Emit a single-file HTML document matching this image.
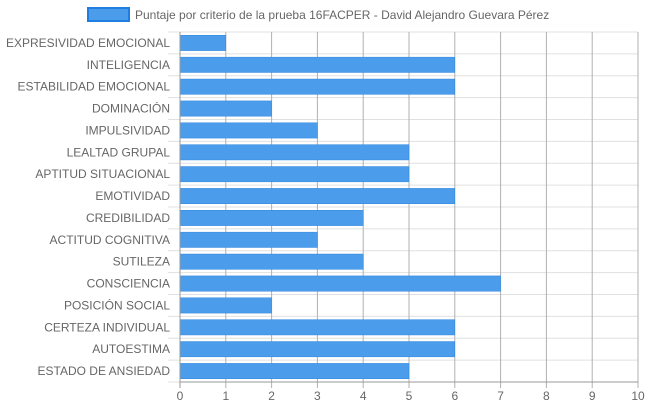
<!DOCTYPE html>
<html><head><meta charset="utf-8"><style>
body{margin:0;background:#fff;font-family:"Liberation Sans","DejaVu Sans",sans-serif;}
</style></head><body>
<svg id="c" width="648" height="410" xmlns="http://www.w3.org/2000/svg"></svg>
<script>
const categories=["EXPRESIVIDAD EMOCIONAL","INTELIGENCIA","ESTABILIDAD EMOCIONAL","DOMINACIÓN","IMPULSIVIDAD","LEALTAD GRUPAL","APTITUD SITUACIONAL","EMOTIVIDAD","CREDIBILIDAD","ACTITUD COGNITIVA","SUTILEZA","CONSCIENCIA","POSICIÓN SOCIAL","CERTEZA INDIVIDUAL","AUTOESTIMA","ESTADO DE ANSIEDAD"];
const values=[1,6,6,2,3,5,5,6,4,3,4,7,2,6,6,5];
const ticks=[0,1,2,3,4,5,6,7,8,9,10];
const seriesName="Puntaje por criterio de la prueba 16FACPER - David Alejandro Guevara Pérez";
const svg=document.getElementById('c');const NS='http://www.w3.org/2000/svg';
const L=180,R=638,T=32,B=382;
const x=v=>L+(v-ticks[0])/(ticks[ticks.length-1]-ticks[0])*(R-L);
const rowH=(B-T)/categories.length;
const y=i=>T+i*rowH;
function mk(t,a){const e=document.createElementNS(NS,t);for(const k in a)e.setAttribute(k,a[k]);svg.appendChild(e);return e;}
// horizontal row lines
for(let i=0;i<=categories.length;i++){const l=mk('line',{x1:168,x2:R,y1:y(i),y2:y(i),stroke:'#e0e0e0','stroke-width':1});

}
// vertical gridlines + ticks
ticks.forEach(t=>{const l=mk('line',{x1:x(t),x2:x(t),y1:T,y2:B+6,stroke:'#b0b0b0','stroke-width':1});


const tx=mk('text',{x:x(t),y:B+18,'text-anchor':'middle','font-size':12,fill:'#666'});tx.textContent=t;

});
// bars
categories.forEach((c,i)=>{const bh=rowH*0.7;
const r=mk('rect',{x:x(0),y:y(i)+(rowH-bh)/2,width:x(values[i])-x(0),height:bh,fill:'#4b9cea',stroke:'#2f86e0','stroke-width':0.5});


const tx=mk('text',{x:170,y:y(i)+rowH/2+4,'text-anchor':'end','font-size':12,fill:'#666'});tx.textContent=c;

});
const ax=mk('line',{x1:L,x2:R,y1:B,y2:B,stroke:'#999','stroke-width':1});


const ay=mk('line',{x1:L,x2:L,y1:T,y2:B+6,stroke:'#999','stroke-width':1});


// legend
const lb=mk('rect',{x:88,y:8,width:41,height:13,fill:'#4b9cea',stroke:'#1f7ee0','stroke-width':2});


const lt=mk('text',{x:135,y:19,'font-size':12,fill:'#666'});lt.textContent=seriesName;


</script>
</body></html>
